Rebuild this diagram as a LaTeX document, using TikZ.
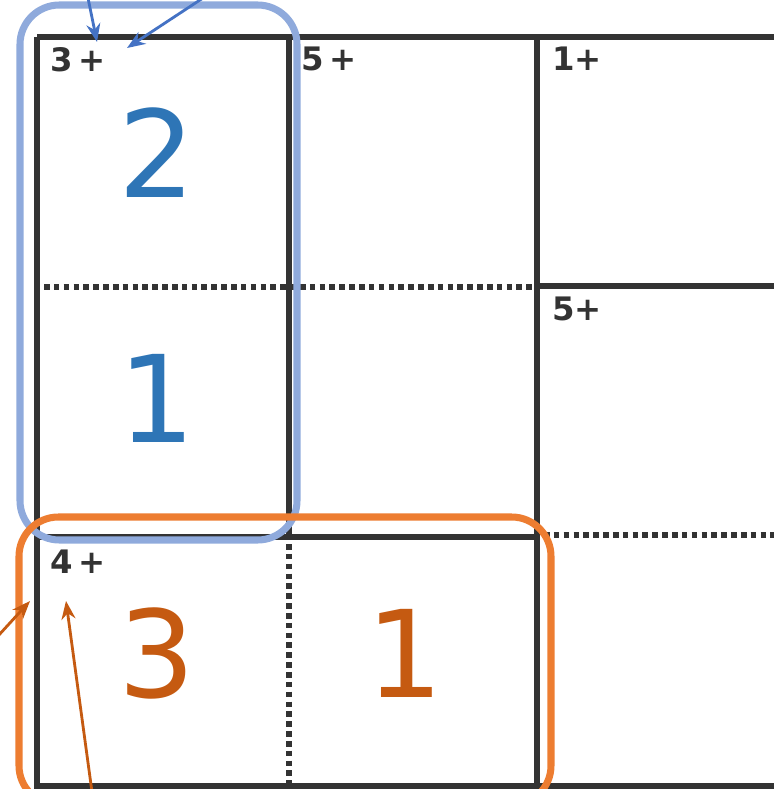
\documentclass[tikz,border=0pt]{standalone}
\usepackage{fontspec}
\setmainfont{DejaVu Sans}
\usetikzlibrary{arrows.meta, positioning, calc}
\definecolor{gridgray}{HTML}{333333}
\definecolor{cageblue}{HTML}{8FAADC}
\definecolor{digitblue}{HTML}{2E75B6}
\definecolor{arrowblue}{HTML}{4472C4}
\definecolor{cageorange}{HTML}{ED7D31}
\definecolor{digitorange}{HTML}{C55A11}

\begin{document}
\begin{tikzpicture}[
      x=0.025cm, y=-0.025cm,
      wall/.style={draw=gridgray, line width=3.8pt},
      inner/.style={draw=gridgray, line width=4pt, dash pattern=on 4pt off 3pt},
      clue/.style={font=\fontsize{23}{23}\selectfont\bfseries, text=gridgray,
                   anchor=north west, inner sep=0pt},
      bigdigit/.style={font=\fontsize{86}{86}\selectfont, inner sep=0pt},
      cage/.style={line width=5pt, rounded corners=28pt},
      pointer/.style={line width=2pt, -{Stealth[length=13pt, width=10pt]}},
    ]
    \useasboundingbox (0,0) rectangle (774,789);
    \clip (0,0) rectangle (774,789);

    % grid walls
    \draw[wall] (37,37) -- (790,37);
    \draw[wall] (37,37) -- (37,800);
    \draw[wall] (289,37) -- (289,537);
    \draw[wall] (537,37) -- (537,800);
    \draw[wall] (537,286) -- (790,286);
    \draw[wall] (37,537) -- (537,537);
    \draw[wall] (37,786) -- (790,786);

    % cell borders inside cages
    \draw[inner] (44,287) -- (537,287);
    \draw[inner] (289,544) -- (289,786);
    \draw[inner] (544,535) -- (790,535);

    % clues
    \node[clue] (c3) at (50,47) {3\,+};
    \node[clue] (c5a) at (301,47) {5\,+};
    \node[clue] (c1) at (552,47) {1+};
    \node[clue] (c5b) at (552,297) {5+};
    \node[clue] (c4) at (50,550) {4\,+};

    % digits
    \node[bigdigit, text=digitblue] (d2) at (157,153) {2};
    \node[bigdigit, text=digitblue] (d1) at (157,398) {1};
    \node[bigdigit, text=digitorange] (d3) at (157,653) {3};
    \node[bigdigit, text=digitorange] (d1b) at (405,653) {1};

    % cages
    \draw[cage, cageblue] (20,5) rectangle (297,540);
    \draw[cage, cageorange] (19,517) rectangle (551,805);

    % pointers
    \coordinate (tb1) at (88,-2);
    \coordinate (hb1) at (97,42);
    \coordinate (tb2) at (203,-2);
    \coordinate (hb2) at (127,48);
    \coordinate (to1) at (-2,636);
    \coordinate (ho1) at (30,601);
    \coordinate (to2) at (92,792);
    \coordinate (ho2) at (66,601);
    \draw[pointer, arrowblue] (tb1) -- (hb1);
    \draw[pointer, arrowblue] (tb2) -- (hb2);
    \draw[pointer, digitorange] (to1) -- (ho1);
    \draw[pointer, digitorange] (to2) -- (ho2);
  \end{tikzpicture}
\end{document}
